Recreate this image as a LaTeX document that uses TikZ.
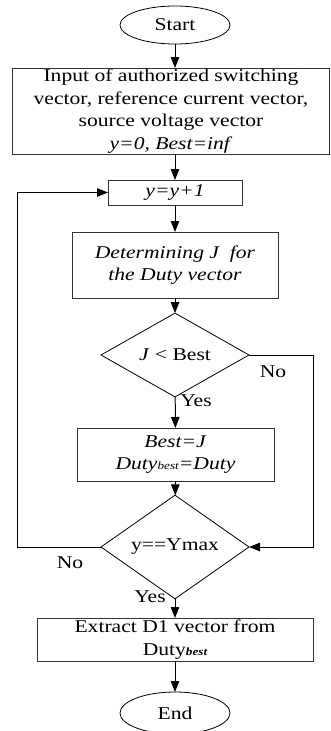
\documentclass[tikz,border=0pt]{standalone}
\usepackage{fontspec}
\setmainfont{Liberation Serif}[FakeStretch=1.2]
\usepackage{tikz}
\usetikzlibrary{arrows.meta,positioning,shapes.geometric}

\begin{document}
\begin{tikzpicture}[
  x=1pt, y=-1pt,
  every node/.style={font=\fontsize{18}{22.5}\selectfont, inner sep=0pt, outer sep=0pt},
  box/.style={draw=black!80, line width=0.8pt, rectangle, align=center},
  term/.style={draw, line width=0.8pt, ellipse, minimum width=110pt, minimum height=38pt},
  cond/.style={draw, line width=0.8pt, diamond, minimum width=148pt, align=center},
  lbl/.style={font=\fontsize{18}{22.5}\selectfont},
  arrow/.style={-{Triangle[length=11pt,width=8.5pt]}, line width=1pt}
]
\useasboundingbox (0,0) rectangle (330,731);

\node[term] (start) at (175,25) {Start};

\node[box, minimum width=317pt, minimum height=86pt] (input) at (171,111)
  {Input of authorized switching\\ vector, reference current vector,\\ source voltage vector\\ \textit{y=0, Best=inf}};

\node[box, minimum width=134pt, minimum height=25pt] (incr) at (175,192.5) {\textit{y=y+1}};

\node[box, minimum width=206pt, minimum height=66pt] (determ) at (175,265)
  {\textit{Determining J\ \ for}\\ \textit{the Duty vector}};

\node[cond, minimum height=66pt] (dec1) at (175,355) {\textit{J} < Best};

\node[box, minimum width=197pt, minimum height=53pt] (update) at (175.5,454.5)
  {\textit{Best=J}\\ \textit{Duty{\fontsize{11}{11}\selectfont best}=Duty}};

\node[cond, minimum height=84pt] (dec2) at (175,547) {y==Ymax};

\node[box, minimum width=276pt, minimum height=43pt] (extract) at (175,639.5)
  {Extract D1 vector from\\ Duty{\fontsize{11}{11}\selectfont\bfseries\itshape best}};

\node[term, minimum height=42pt] (end) at (175,713) {End};

% branch labels
\node[lbl] (no1) at (273,372) {No};
\node[lbl] (yes1) at (196,401) {Yes};
\node[lbl] (no2) at (70,563) {No};
\node[lbl] (yes2) at (150,597) {Yes};

\coordinate (rt) at (313,355);
\coordinate (lt) at (17,547);

\draw[arrow] (start) -- (start |- input.north);
\draw[arrow] (incr |- input.south) -- (incr);
\draw[arrow] (incr) -- (determ);
\draw[arrow] (determ) -- (dec1);
\draw[arrow] (dec1) -- (update);
\draw[arrow] (update) -- (dec2);
\draw[arrow] (dec2) -- (extract);
\draw[arrow] (extract) -- (end);

\draw[arrow] (dec1.east) -- (rt) |- (dec2.east);
\draw[arrow] (dec2.west) -- (lt) |- (incr.west);

\end{tikzpicture}
\end{document}
